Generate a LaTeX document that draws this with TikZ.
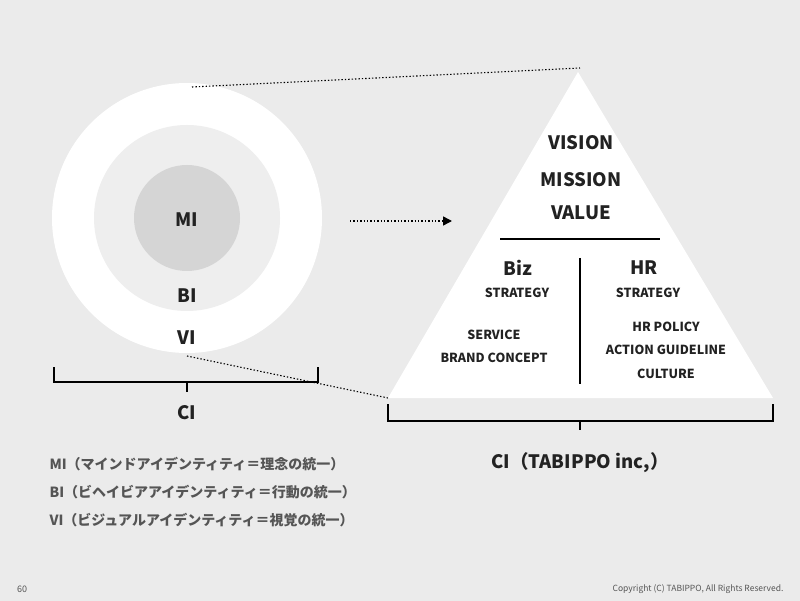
\documentclass[tikz,border=0pt]{standalone}
\usepackage{fontspec}
\setmainfont{Noto Sans CJK JP}
\usetikzlibrary{arrows.meta}
\definecolor{bg}{HTML}{EBEBEB}
\definecolor{core}{HTML}{D5D5D5}
\definecolor{inner}{HTML}{EEEEEE}
\definecolor{txt}{HTML}{222222}
\definecolor{leg}{HTML}{555555}
\tikzset{
 big/.style={font=\bfseries\fontsize{18.5}{20}\selectfont,text=txt},
 small/.style={font=\bfseries\fontsize{12.5}{14}\selectfont,text=txt},
 legend/.style={font=\bfseries\fontsize{14}{15}\selectfont,text=leg,anchor=west},
 dots/.style={line width=1.4pt,black,dash pattern=on 1.4pt off 2pt},
 brk/.style={line width=1.3pt,black}
}
\begin{document}
\begin{tikzpicture}[x=1pt,y=-1pt]
\fill[bg] (0,0) rectangle (800,601);
\useasboundingbox (0,0) rectangle (800,601);
\fill[white] (187,218) circle (135);
\fill[inner] (187,218) circle (93);
\fill[core] (187,218) circle (53);
\node[big] (mi) at (187,220) {MI};
\node[big] (bi) at (187,296) {BI};
\node[big] (vi) at (187,338) {VI};
\coordinate (c1) at (192,87);
\coordinate (c2) at (187,356);
\coordinate (apex) at (578,72);
\coordinate (bl) at (388,398);
\coordinate (br) at (773,398);
\draw[dots,line width=1.1pt] (c1) -- (580,68);
\draw[dots,line width=1.1pt] (c2) -- (bl);
\fill[white] (apex) -- (bl) -- (br) -- cycle;
\draw[brk] (54,367) -- (54,382) -- (318,382) -- (318,367);
\draw[brk] (187,382) -- (187,392);
\node[big] (ci) at (187,413) {CI};
\coordinate (a1) at (350,221);
\coordinate (a2) at (452,221);
\draw[dots,-{Triangle[length=9pt,width=9pt]}] (a1) -- (a2);
\node[big] (vision) at (581,143) {VISION};
\node[big] (mission) at (581,180) {MISSION};
\node[big] (value) at (581,213) {VALUE};
\draw[line width=1.3pt] (500,239) -- (660,239);
\draw[line width=1.3pt] (580,258) -- (580,384);
\node[big] (biz) at (518,268) {Biz};
\node[small] (s1) at (517,293) {STRATEGY};
\node[small] (srv) at (494,335) {SERVICE};
\node[small] (bc) at (494,358) {BRAND CONCEPT};
\node[big] (hr) at (644,268) {HR};
\node[small] (s2) at (648,293) {STRATEGY};
\node[small] (hp) at (666,327) {HR POLICY};
\node[small] (ag) at (666,350) {ACTION GUIDELINE};
\node[small] (cu) at (666,374) {CULTURE};
\draw[brk] (388,404) -- (388,421) -- (773,421) -- (773,404);
\draw[brk] (580,421) -- (580,430);
\node[big] (ci2) at (580,463) {CI（TABIPPO inc,）};
\node[legend] (l1) at (46,464) {MI（マインドアイデンティティ＝理念の統一）};
\node[legend] (l2) at (46,492) {BI（ビヘイビアアイデンティティ＝行動の統一）};
\node[legend] (l3) at (46,520) {VI（ビジュアルアイデンティティ＝視覚の統一）};
\node[font=\fontsize{9}{10}\selectfont,text=leg] (pg) at (22,589) {60};
\node[font=\fontsize{8.5}{10}\selectfont,text=leg,anchor=east] (cp) at (787,589) {Copyright (C) TABIPPO, All Rights Reserved.};
\end{tikzpicture}
\end{document}
